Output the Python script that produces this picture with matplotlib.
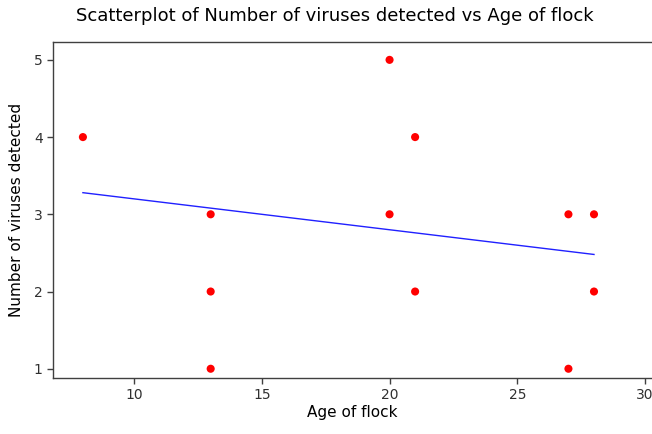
import matplotlib
matplotlib.use("Agg")
import matplotlib.pyplot as plt

# flock data
age = [8, 13, 13, 13, 20, 20, 21, 21, 27, 27, 28, 28]
viruses = [4, 3, 2, 1, 5, 3, 4, 2, 3, 1, 3, 2]

# fitted line end points as drawn in the picture
fit_age = [8, 28]
fit_viruses = [3.28, 2.48]

x_ticks = [10, 15, 20, 25, 30]
y_ticks = [1, 2, 3, 4, 5]

fig = plt.figure(figsize=(6.52, 4.34), dpi=100)
ax = fig.add_axes([0.0813, 0.129, 0.9187, 0.774])

ax.plot(fit_age, fit_viruses, color="#2020ff", linewidth=1.0, zorder=2)
ax.scatter(age, viruses, s=34, color="red", edgecolors="none", zorder=3)

ax.set_xlim(6.83, 30.27)
ax.set_ylim(0.88, 5.23)
ax.set_xticks(x_ticks)
ax.set_yticks(y_ticks)

for side in ("left", "bottom", "top"):
    ax.spines[side].set_color("#404040")
    ax.spines[side].set_linewidth(1.0)
ax.spines["right"].set_visible(False)

ax.tick_params(direction="out", length=4, width=1, color="#404040",
               labelsize=10, labelcolor="#303030")

ax.set_xlabel("Age of flock", fontsize=11, labelpad=2)
ax.set_ylabel("Number of viruses detected", fontsize=11, labelpad=7)

fig.text(0.513, 0.962, "Scatterplot of Number of viruses detected vs Age of flock",
         ha="center", va="center", fontsize=13)

fig.savefig("out.png", dpi=100)
